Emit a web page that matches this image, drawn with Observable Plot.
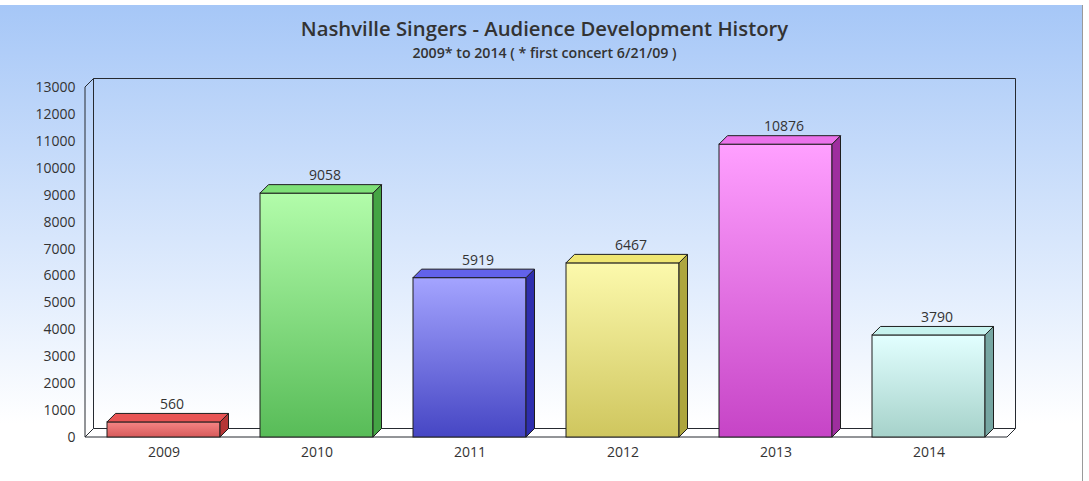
<!DOCTYPE html>
<html><head><meta charset="utf-8">
<script src="https://cdn.jsdelivr.net/npm/d3@7"></script>
<script src="https://cdn.jsdelivr.net/npm/@observablehq/plot@0.6"></script>
<style>
html,body{margin:0;padding:0;background:#fff;}
#wrap{position:relative;width:1089px;height:481px;overflow:hidden;font-family:"Open Sans",sans-serif;}
#bg{position:absolute;left:0;top:5px;width:1082px;height:476px;background:linear-gradient(to bottom,#a6c7f7 0%,#c4dafa 30%,#e2edfd 60%,#ffffff 88%);border-right:1px solid #9a9a9a;}
#title{position:absolute;left:0;width:1089px;top:14px;text-align:center;font-size:20.3px;font-weight:600;color:#333;white-space:nowrap;}
#subtitle{position:absolute;left:0;width:1089px;top:42.5px;text-align:center;font-size:14.2px;font-weight:600;color:#333;white-space:nowrap;}
#chart{position:absolute;left:0;top:0;}
</style></head>
<body>
<div id="wrap"><div id="bg"></div><div id="title">Nashville Singers - Audience Development History</div><div id="subtitle">2009* to 2014 ( * first concert 6/21/09 )</div><div id="chart"></div></div>
<script>
const years = ["2009", "2010", "2011", "2012", "2013", "2014"];
const audience = [560, 9058, 5919, 6467, 10876, 3790];
const yTicks = [0, 1000, 2000, 3000, 4000, 5000, 6000, 7000, 8000, 9000, 10000, 11000, 12000, 13000];
const frontTopColors = ["#f58585", "#b2fcaa", "#a4a4ff", "#fcf9ac", "#ffa0ff", "#e2ffff"];
const frontBottomColors = ["#d65a5a", "#58bc58", "#4646c4", "#cfc65e", "#c644c6", "#a6d2ca"];
const topColors = ["#e85454", "#7ee078", "#6262ea", "#efe672", "#ea72ea", "#c6f2ee"];
const sideColors = ["#b63636", "#44a444", "#2e2eae", "#aea63e", "#9e2e9e", "#76a6a2"];

const data = years.map((year, i) => ({year, value: audience[i], i}));
const depth = 8.5;
const lineColor = "#262a30";

function frame3d(index, scales, values, dims) {
  const {y} = scales;
  const {width, marginLeft, marginRight} = dims;
  const xl = marginLeft, xr = width - marginRight;
  const yb = y(0), yt = y(yTicks[yTicks.length - 1]);
  const g = d3.create("svg:g");
  const defs = g.append("defs");
  data.forEach(d => {
    const lg = defs.append("linearGradient").attr("id", "front" + d.i)
      .attr("x1", 0).attr("y1", 0).attr("x2", 0).attr("y2", 1);
    lg.append("stop").attr("offset", "0%").attr("stop-color", frontTopColors[d.i]);
    lg.append("stop").attr("offset", "100%").attr("stop-color", frontBottomColors[d.i]);
  });
  g.append("path")
    .attr("d", `M${xl},${yb}L${xr},${yb}L${xr + depth},${yb - depth}L${xl + depth},${yb - depth}Z`)
    .attr("fill", "#ffffff").attr("stroke", lineColor).attr("stroke-width", 1);
  g.append("path")
    .attr("d", `M${xl + depth},${yb - depth}L${xl + depth},${yt - depth}L${xr + depth},${yt - depth}L${xr + depth},${yb - depth}`)
    .attr("fill", "none").attr("stroke", lineColor).attr("stroke-width", 1);
  g.append("path")
    .attr("d", `M${xl},${yb}L${xl},${yt}L${xl + depth},${yt - depth}`)
    .attr("fill", "none").attr("stroke", lineColor).attr("stroke-width", 1);
  return g.node();
}

function faces3d(index, scales) {
  const {x, y} = scales;
  const bw = x.bandwidth();
  const g = d3.create("svg:g");
  data.forEach(d => {
    const x0 = x(d.year), x1 = x0 + bw, yv = y(d.value), yb = y(0);
    g.append("path")
      .attr("d", `M${x1},${yb}L${x1 + depth},${yb - depth}L${x1 + depth},${yv - depth}L${x1},${yv}Z`)
      .attr("fill", sideColors[d.i]).attr("stroke", "#1e1e1e").attr("stroke-width", 1).attr("stroke-linejoin", "round");
    g.append("path")
      .attr("d", `M${x0},${yv}L${x0 + depth},${yv - depth}L${x1 + depth},${yv - depth}L${x1},${yv}Z`)
      .attr("fill", topColors[d.i]).attr("stroke", "#1e1e1e").attr("stroke-width", 1).attr("stroke-linejoin", "round");
  });
  return g.node();
}

const chart = Plot.plot({
  width: 1089,
  height: 481,
  marginLeft: 85,
  marginRight: 82,
  marginTop: 87,
  marginBottom: 44,
  x: {domain: years, paddingInner: 0.26, paddingOuter: 0.13, label: null},
  y: {domain: [0, 13000], label: null},
  color: {type: "identity"},
  style: {fontFamily: "Open Sans", fontSize: "14px", background: "transparent", color: "#333", overflow: "visible"},
  marks: [
    frame3d,
    Plot.axisY({ticks: yTicks, tickSize: 0, tickPadding: 10, tickFormat: d => String(d), label: null, fontSize: 14}),
    Plot.axisX({tickSize: 0, tickPadding: 10, label: null, fontSize: 14}),
    Plot.barY(data, {x: "year", y: "value", fill: d => `url(#front${d.i})`, stroke: "#1e1e1e", strokeWidth: 1}),
    faces3d,
    Plot.text(data, {x: "year", y: "value", text: d => String(d.value), dx: 8, dy: -18, fontSize: 14, fill: "#333"})
  ]
});
document.getElementById("chart").appendChild(chart);
</script>
</body></html>
